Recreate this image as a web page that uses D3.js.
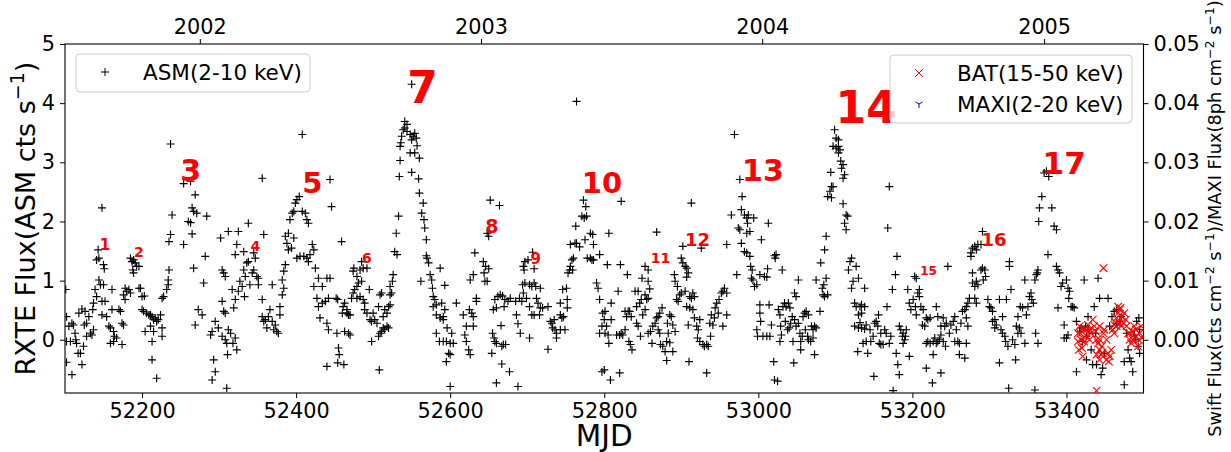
<!DOCTYPE html>
<html lang="en">
<head>
    <meta charset="UTF-8">
    <script src="https://cdn.jsdelivr.net/npm/d3@7"></script>
    <title>ASM light curve</title>
    <style>
        body { margin: 0; background: #fff; }
        text { font-family: "DejaVu Sans", sans-serif; }
    </style>
</head>
<body>
<script>
// RXTE/ASM daily rate [MJD, cts/s]
const asm = [
[52101,0.85],[52102,0.39],[52105,0.23],[52102,-0.03],[52107,-0.03],[52109,0.28],[52111,0.25],[52113,0.11],[52114,0.00],[52118,0.45],[52117,-0.23],[52115,-0.06],[52120,-0.23],[52122,0.52],[52124,-0.11],[52126,0.48],[52128,0.28],[52125,0.25],[52131,0.39],[52128,0.06],[52133,0.11],[52135,0.08],[52137,0.17],[52136,0.51],[52137,0.62],[52139,0.85],[52141,0.73],[52144,1.01],[52146,0.93],[52150,0.93],[52148,0.65],[52152,0.65],[52148,0.42],[52154,0.39],[52157,0.23],[52159,0.20],[52161,0.85],[52161,0.51],[52163,0.14],[52164,0.06],[52159,-0.06],[52163,-0.03],[52167,0.03],[52170,0.51],[52172,0.48],[52174,0.28],[52176,0.25],[52174,-0.08],[52122,-0.42],[52109,-0.59],[52102,-0.38],[52143,1.52],[52144,1.38],[52141,1.35],[52150,1.27],[52151,1.20],[52148,2.23],
[52178,0.87],[52180,0.82],[52183,0.85],[52185,0.79],[52176,0.76],[52178,0.68],[52189,1.13],[52188,1.18],[52187,1.32],[52189,1.35],[52191,1.30],[52193,1.24],[52196,1.24],[52185,1.38],[52196,0.87],[52198,0.87],[52200,0.73],[52203,0.74],[52200,0.51],[52202,0.48],[52206,0.45],[52209,0.42],[52211,0.42],[52213,0.39],[52204,0.14],[52211,0.23],[52215,0.34],[52217,0.37],[52219,0.31],[52221,0.34],[52224,0.42],[52226,0.20],[52226,0.06],[52215,0.14],[52213,-0.03],[52213,-0.34],[52219,-0.65],[52226,0.70],[52228,0.73],[52232,0.85],[52234,0.93],[52234,1.01],[52235,1.18],[52235,1.66],[52237,1.78],[52239,2.11],[52237,3.31],
[52254,2.64],[52263,2.68],[52269,2.45],[52265,2.23],[52267,2.17],[52271,2.14],[52260,2.00],[52263,1.98],[52265,1.79],[52254,1.61],[52267,1.21],[52280,0.96],[52282,1.41],[52284,2.09],[52273,0.51],[52278,0.42],[52269,0.25],[52289,0.08],[52291,0.14],[52295,0.31],[52293,-0.34],[52295,-0.54],[52291,-0.68],[52299,0.20],[52302,1.72],[52304,1.18],[52306,1.13],[52308,1.07],[52304,0.65],[52306,0.48],[52308,0.45],[52304,0.06],[52308,0.00],[52310,-0.06],[52312,1.83],[52312,0.17],[52315,0.11],[52311,-0.25],[52310,-0.82],[52317,0.85],[52319,0.54],[52318,-0.06],[52321,0.03],[52321,0.68],[52323,-0.17],[52323,1.61],[52325,1.83],[52321,1.44],[52325,0.82],[52327,0.99],[52330,0.90],[52332,1.18],[52332,1.49],[52334,1.07],[52333,0.73],[52336,1.30],[52338,1.32],[52338,1.97],[52340,0.93],[52343,1.13],[52345,1.18],[52345,1.47],[52347,1.38],[52349,1.07],[52351,1.04],[52351,0.93],[52356,0.68],[52356,0.39],[52358,0.31],[52358,1.78],[52360,0.34],[52362,0.20],[52364,0.39],[52366,0.51],[52369,0.31],[52369,0.93],[52371,0.17],[52373,0.25],[52375,0.14],[52377,0.11],[52379,0.42],[52379,0.56],[52382,0.76],[52384,0.87],[52382,1.01],[52384,1.16],[52386,1.27],[52386,1.75],[52390,1.80],[52388,1.63],[52390,1.52],[52394,1.55],[52397,1.72],[52401,1.38],[52405,1.41],[52410,1.41],[52414,1.38],[52416,1.32],[52418,1.44],[52421,1.61],[52423,1.52],[52425,1.21],[52423,0.90],[52429,1.04],[52434,0.90],[52440,1.04],[52444,1.04],[52427,0.70],[52429,0.56],[52434,0.62],[52438,0.65],[52442,0.70],[52431,0.37],[52440,0.28],[52442,0.17],[52440,-0.45],[52392,2.03],[52397,2.17],[52395,2.14],[52399,2.31],[52401,2.37],[52404,2.42],[52408,2.17],[52412,2.14],[52414,2.03],[52416,1.97],[52408,3.47],[52356,2.73],[52444,2.71],[52446,2.25],
[52459,1.66],[52452,0.70],[52454,0.68],[52453,0.11],[52455,-0.14],[52456,-0.25],[52454,-0.39],[52462,-0.42],[52461,0.56],[52463,0.62],[52460,0.45],[52466,0.45],[52468,0.42],[52470,0.42],[52463,0.14],[52468,0.11],[52470,0.08],[52466,0.51],[52472,0.70],[52474,0.79],[52476,0.85],[52479,0.90],[52481,0.96],[52485,0.99],[52475,1.21],[52474,1.16],[52479,1.07],[52483,1.18],[52485,1.32],[52487,1.21],[52492,1.21],[52479,0.70],[52483,0.73],[52487,0.68],[52489,0.62],[52489,0.51],[52492,0.45],[52496,0.34],[52498,0.31],[52502,0.34],[52505,0.28],[52500,0.45],[52495,0.85],[52498,-0.03],[52507,0.06],[52509,0.11],[52511,0.14],[52513,0.20],[52515,0.17],[52518,0.23],[52520,0.20],[52507,0.56],[52509,0.76],[52511,0.79],[52513,0.39],[52515,0.51],[52518,0.45],[52520,0.56],[52522,0.59],[52522,0.76],[52524,0.79],[52522,0.90],[52525,0.99],[52526,1.10],[52508,-0.51],
[52528,1.49],[52531,1.44],[52530,1.80],[52533,2.09],[52534,2.76],[52535,3.03],[52535,3.27],[52537,3.44],[52539,3.55],[52541,3.69],[52544,3.64],[52541,3.58],[52544,3.52],[52548,3.47],[52550,3.38],[52552,3.44],[52554,3.49],[52556,3.41],[52557,3.28],[52548,3.16],[52554,3.16],[52560,3.07],[52536,3.33],[52550,2.83],[52559,2.72],[52550,4.32],[52560,2.48],[52565,2.31],[52563,2.14],[52566,2.03],[52567,1.89],[52569,1.69],[52569,1.42],[52570,1.38],[52572,1.30],[52574,1.10],[52576,1.01],[52577,0.87],[52562,0.99],[52578,0.73],[52580,0.68],[52582,0.59],[52578,0.56],[52582,0.42],[52587,0.37],[52591,0.34],[52591,0.39],[52589,0.62],[52593,0.51],[52582,0.11],[52586,-0.03],[52591,-0.03],[52595,-0.03],[52600,-0.06],[52604,-0.06],[52596,0.20],[52602,0.11],[52595,-0.37],[52598,-0.23],[52600,-0.25],[52600,-0.79],[52587,1.21],[52593,0.92],[52608,0.62],[52617,0.42],[52621,0.23],[52619,0.08],[52621,-0.03],[52624,-0.17],[52626,-0.25],[52625,0.51],[52628,0.45],[52630,0.39],[52630,0.23],[52626,1.01],[52630,1.10],[52632,1.47],[52634,0.70],[52634,0.65],[52643,1.32],[52644,1.13],[52645,0.99],[52648,0.99],[52646,1.24],[52650,1.20],[52648,1.80],[52650,1.75],[52652,2.36],[52664,2.27],[52655,0.11],[52657,0.03],[52658,-0.03],[52654,-0.23],[52660,-0.06],[52658,0.68],[52656,0.51],[52660,0.54],[52662,0.73],[52665,0.76],[52668,0.74],[52671,0.68],[52670,0.56],[52666,0.24],[52667,-0.11],[52669,-0.08],[52672,-0.08],[52667,-0.41],[52677,-0.54],[52660,-0.73],[52675,0.65],[52678,0.70],[52685,0.65],[52686,0.42],[52690,0.70],[52688,0.27],[52691,0.11],[52693,0.65],[52695,0.79],[52694,0.93],[52697,0.96],[52696,1.18],[52695,1.24],[52697,1.32],[52701,1.35],[52707,1.48],[52709,1.20],[52699,0.70],[52703,0.56],[52703,0.03],[52706,0.42],[52703,0.93],[52706,0.90],[52709,0.96],[52711,0.90],[52717,0.87],[52712,0.70],[52714,0.62],[52717,0.54],[52716,0.42],[52709,0.42],[52688,-0.79],[52720,0.54],[52727,0.56],[52727,-0.16],[52730,0.31],[52732,0.28],[52733,0.20],[52735,0.34],[52736,0.17],[52738,0.11],[52738,0.03],[52743,0.62],[52743,0.42],[52745,0.37],[52747,0.39],[52749,0.17],[52743,0.17],[52746,0.85],[52751,0.87],[52752,0.68],[52752,0.54],[52753,1.13],[52755,1.18],[52756,1.24],[52759,1.18],[52758,1.35],[52760,1.38],[52756,1.61],[52762,1.63],[52764,1.63],[52768,1.57],[52763,1.92],[52771,2.09],[52774,2.06],[52777,2.09],[52776,2.25],[52773,2.36],[52775,1.69],[52778,1.38],[52782,1.38],[52784,1.35],[52786,1.35],[52782,1.80],[52785,1.78],[52786,1.61],[52764,4.03],[52790,0.96],[52792,0.87],[52794,0.68],[52794,0.11],[52797,-0.54],
[52797,0.23],[52798,0.45],[52801,0.48],[52800,0.34],[52801,0.11],[52803,0.23],[52805,0.08],[52806,-0.06],[52800,-0.51],[52808,-0.68],[52809,0.62],[52809,0.34],[52804,1.27],[52794,1.44],[52806,1.80],[52822,2.34],[52820,-0.56],[52818,0.82],[52816,0.08],[52820,0.08],[52822,0.11],[52824,0.08],[52827,0.17],[52821,1.27],[52830,1.10],[52827,0.48],[52829,0.39],[52831,0.48],[52833,0.48],[52832,-0.03],[52834,-0.08],[52836,-0.17],[52835,0.39],[52840,0.82],[52844,0.82],[52842,0.56],[52846,0.62],[52848,0.68],[52842,0.28],[52844,0.23],[52847,0.06],[52850,0.42],[52853,0.51],[52855,0.68],[52857,0.70],[52853,1.24],[52857,1.18],[52849,1.04],[52857,0.99],[52859,0.86],[52853,0.76],[52857,0.11],[52860,0.14],[52862,-0.06],[52863,0.23],[52866,0.28],[52868,0.37],[52870,0.17],[52872,0.11],[52868,1.82],[52870,0.39],[52872,0.45],[52875,0.54],[52873,-0.08],[52876,-0.11],[52879,-0.20],[52881,-0.35],[52881,-0.03],[52883,0.11],[52882,0.28],[52885,0.42],[52887,0.39],[52889,0.25],[52892,0.14],[52889,-0.20],[52885,-0.05],[52891,1.10],[52892,0.99],[52894,0.68],[52896,0.65],[52898,0.76],[52900,0.79],[52895,0.90],[52900,1.38],[52902,1.30],[52905,1.24],[52907,1.21],[52909,1.13],[52907,1.06],[52902,1.58],[52905,0.82],[52907,0.56],[52909,0.25],[52911,0.73],[52913,0.70],[52915,0.79],[52917,0.73],[52911,0.54],[52915,0.51],[52913,2.31],[52910,-0.37],[52917,0.37],[52920,0.23],[52922,0.17],[52924,0.34],[52926,1.55],[52921,0.03],[52924,-0.03],[52928,-0.08],[52930,-0.11],[52933,-0.08],[52935,-0.11],[52933,-0.56],[52937,0.28],[52939,0.42],[52941,0.25],[52938,0.06],[52943,0.37],[52944,0.54],[52946,0.62],[52948,0.45],[52949,0.68],[52952,0.79],[52954,0.82],[52956,0.87],[52959,0.79],[52959,0.42],[52954,0.23],[52959,1.61],
[52965,2.11],[52969,3.47],[52972,1.10],[52974,1.89],[52976,2.71],[52978,2.20],[52979,2.42],[52982,2.11],[52985,2.06],[52987,2.11],[52986,1.97],[52989,1.83],[52985,1.80],[52976,1.86],[52978,1.63],[52982,1.49],[52985,1.47],[52989,1.41],[52994,2.06],[52990,1.24],[52992,1.18],[52991,1.04],[52993,1.01],[52995,0.90],[52998,0.93],[53002,1.10],[53004,1.69],[53008,1.07],[53011,1.06],[53012,1.20],[53013,1.97],[52998,0.17],[52999,0.06],[53002,0.45],[53003,0.31],[53002,0.59],[53006,0.06],[53011,0.06],[53014,0.59],[53015,0.06],[53017,0.25],[53020,-0.37],[53021,-0.68],[53025,-0.70],[53022,1.38],[53023,1.44],[53021,1.42],[53026,0.51],[53028,0.42],[53029,0.23],[53028,-0.03],[53030,0.08],[53031,1.18],[53032,0.56],[53034,0.62],[53036,0.56],[53039,0.62],[53041,0.54],[53035,0.31],[53038,0.17],[53040,0.20],[53042,0.28],[53044,0.39],[53045,-0.03],[53046,-0.39],[53047,0.79],[53049,0.73],[53052,1.01],[53047,0.34],[53049,0.23],[53052,0.28],[53054,0.11],[53055,-0.03],[53057,0.06],[53055,-0.17],[53058,0.39],[53060,0.45],[53062,0.48],[53065,0.42],[53061,0.17],[53064,0.06],[53065,0.00],[53069,0.23],[53071,0.17],[53073,0.23],[53068,-0.03],[53071,0.03],[53073,-0.25],[53075,0.20],[53075,1.01],[53080,0.48],[53081,1.30],[53083,0.87],[53085,0.93],[53084,0.76],[53086,0.73],[53088,1.04],[53090,0.76],[53086,1.52],[53088,1.75],
[53090,2.42],[53093,2.51],[53095,2.40],[53095,2.59],[53097,2.59],[53094,2.83],[53097,3.27],[53099,3.55],[53101,3.41],[53104,3.38],[53104,3.27],[53106,3.21],[53101,3.24],[53104,3.16],[53107,3.02],[53110,2.96],[53108,2.90],[53112,2.79],[53110,2.73],[53110,2.30],[53114,2.11],[53116,2.09],[53112,1.97],[53114,1.86],[53119,1.32],[53121,1.38],[53117,1.18],[53127,1.24],[53123,0.99],[53121,0.87],[53130,1.04],[53138,0.87],[53125,0.62],[53127,0.56],[53132,0.56],[53134,0.59],[53138,0.56],[53130,0.42],[53134,0.45],[53132,0.29],[53125,0.23],[53130,0.20],[53134,0.20],[53138,0.18],[53136,-0.06],[53140,-0.03],[53142,-0.23],[53129,-0.20],[53140,0.25],
[53145,0.17],[53146,-0.03],[53149,0.06],[53150,-0.62],[53151,0.28],[53153,0.31],[53155,0.23],[53157,-0.06],[53159,-0.08],[53162,-0.08],[53159,0.11],[53156,0.42],[53164,0.17],[53166,0.11],[53167,0.56],[53168,1.89],[53170,2.59],[53170,-0.06],[53172,0.06],[53175,-0.86],[53179,-0.23],[53180,1.41],[53181,-0.42],[53178,1.10],[53174,0.85],[53183,-0.59],[53183,0.23],[53185,0.17],[53187,0.06],[53188,0.11],[53190,0.00],[53191,0.06],[53188,-0.06],[53192,0.17],[53194,0.85],[53196,0.62],[53196,-0.28],[53198,0.51],[53201,0.68],[53203,1.07],[53205,1.04],[53204,0.56],[53207,0.79],[53209,0.73],[53209,0.85],[53211,0.56],[53214,0.51],[53205,0.42],[53213,0.25],[53216,0.23],[53218,0.37],[53220,0.34],[53223,0.37],[53218,-0.06],[53220,-0.03],[53223,-0.06],[53227,-0.03],[53229,0.03],[53231,-0.06],[53233,-0.03],[53235,0.00],[53237,0.08],[53218,-0.48],[53227,-0.25],[53226,-0.73],[53231,0.56],[53233,0.39],[53237,0.23],[53240,0.37],[53242,0.23],[53244,0.28],[53246,1.24],[53240,-0.03],[53243,-0.11],[53237,-0.56],[53248,0.11],[53250,0.25],[53253,0.31],[53255,0.39],[53257,0.17],[53259,-0.03],[53255,-0.03],[53261,-0.25],[53261,-0.06],[53263,0.28],[53265,0.48],[53268,0.51],[53270,0.56],[53272,0.62],[53274,0.70],[53268,-0.31],[53270,-0.06],[53270,0.37],[53272,0.23],
[53276,1.47],[53278,1.55],[53281,1.58],[53283,1.52],[53285,1.61],[53289,1.61],[53291,1.83],[53276,1.41],[53278,1.13],[53278,0.96],[53281,0.90],[53283,0.99],[53285,0.93],[53289,1.18],[53291,1.21],[53294,1.18],[53295,1.07],[53292,1.01],[53281,0.70],[53283,0.62],[53298,0.68],[53300,0.56],[53302,0.54],[53304,0.48],[53304,0.31],[53307,0.34],[53309,0.25],[53307,0.20],[53313,0.68],[53315,0.17],[53317,0.11],[53320,0.06],[53322,0.68],[53317,0.39],[53313,-0.39],[53321,-0.03],[53324,-0.11],[53325,-0.82],[53326,1.32],[53326,1.24],[53328,0.85],[53330,0.00],[53333,-0.08],[53334,-0.34],[53335,0.23],[53337,0.39],[53337,0.11],[53339,0.20],[53340,0.56],[53341,0.11],[53343,0.54],[53346,1.01],[53346,-0.06],[53348,0.42],[53350,0.56],[53352,0.73],[53354,0.79],[53355,0.68],[53357,0.62],[53359,1.01],[53361,1.10],[53363,1.18],[53362,1.13],[53360,0.11],[53363,-0.06],[53359,-0.85],
[53364,2.00],[53365,2.23],[53368,2.42],[53371,2.82],[53374,2.85],[53377,2.76],[53381,2.23],[53384,1.92],[53387,1.86],[53376,1.44],[53387,1.24],[53389,1.18],[53391,1.13],[53393,0.90],[53395,0.96],[53400,1.01],[53402,0.87],[53404,0.82],[53406,0.56],[53408,0.56],[53410,0.54],[53403,0.70],[53389,0.54],[53397,0.25],[53397,0.03],[53400,0.03],[53402,0.08],[53413,0.31],[53417,0.14],[53419,0.20],[53421,-0.03],[53423,1.01],[53425,0.23],[53426,0.06],[53426,-0.34],[53413,-0.54],[53428,0.39],[53429,0.17],[53432,-0.17],[53434,-0.42],[53436,0.56],[53438,0.11],[53439,-0.42],[53441,1.04],[53443,0.70],[53445,-0.59],[53447,-0.48],[53449,-0.23],[53454,0.70],[53456,0.23],[53459,0.39],[53462,0.48],[53465,0.51],[53465,0.28],[53469,0.31],[53471,0.39],[53475,-0.37],[53478,0.11],[53480,-0.17],[53482,-0.31],[53484,-0.37],[53486,-0.54],[53475,-0.76],[53488,0.08],[53490,0.00],[53493,-0.11],[53494,0.37],[53495,0.17],[53491,0.31],[53495,-0.23]
]

// Swift/BAT rate [MJD, cts cm^-2 s^-1]
const bat = [
[53415,0.0011],[53417,0.0023],[53419,0.0000],[53420,-0.0014],[53421,-0.0028],[53423,0.0017],[53426,0.0006],[53428,0.0025],[53430,0.0017],[53432,0.0011],[53434,0.0034],[53436,0.0023],[53438,0.0014],[53439,0.0000],[53441,-0.0006],[53443,-0.0017],[53445,-0.0025],[53446,-0.0011],[53448,0.0011],[53449,0.0017],[53452,0.0000],[53454,-0.0023],[53455,-0.0037],[53456,-0.0028],[53458,-0.0017],[53460,0.0017],[53462,0.0025],[53465,0.0023],[53465,0.0037],[53467,0.0045],[53469,0.0051],[53470,0.0054],[53472,0.0039],[53474,0.0028],[53475,0.0045],[53477,0.0034],[53478,0.0023],[53480,0.0011],[53482,0.0000],[53484,-0.0006],[53486,0.0014],[53488,0.0023],[53490,0.0006],[53493,-0.0011],[53494,0.0000],[53495,0.0011],[53497,0.0023],[53498,0.0003],[53418,0.0011],[53423,-0.0003],[53430,0.0000],[53443,0.0000],[53447,-0.0023],[53452,-0.0034],[53439,-0.0025],[53443,-0.0034],[53469,0.0028],[53464,0.0029],[53462,0.0011],[53426,0.0017],[53415,-0.0003],[53416,-0.0017],[53443,0.0023],[53448,0.0121],[53439,-0.0086],[53486,0.0000],[53490,0.0017],[53482,0.0011],[53471,0.0023],[53467,0.0056]
]

// MAXI has no points in this window
const maxi = []

// outburst numbering
const outburstIds  = ["1","2","3","4","5","6","7","8","9","10","11","12","13","14","15","16","17"]
const outburstMJD  = [52152,52196,52263,52347,52421,52492,52564,52654,52711,52797,52873,52921,53006,53140,53221,53306,53397]
const outburstRate = [1.61,1.49,2.86,1.59,2.66,1.38,4.27,1.92,1.38,2.66,1.38,1.70,2.87,3.94,1.17,1.70,2.99]
const outburstFont = [15,14,30,14,29,14,44,19,15,29,14,18,30,44,12,18,31]

const mjdTicks   = [52200,52400,52600,52800,53000,53200,53400]
const yearTicks  = [52275,52640,53005,53371]
const yearLabels = ["2002","2003","2004","2005"]
const asmTicks   = [0,1,2,3,4,5]
const swiftTicks = [0,0.01,0.02,0.03,0.04,0.05]

const width = 1231, height = 452
const margin = {top: 44, right: 87.5, bottom: 59, left: 65}
const tickFont = 20.8

const svg = d3.select("body").append("svg")
    .attr("width", width)
    .attr("height", height)

const x = d3.scaleLinear().domain([52100, 53500]).range([margin.left, width - margin.right])
const y = d3.scaleLinear().domain([-0.9, 5]).range([height - margin.bottom, margin.top])
const y2 = d3.scaleLinear().domain([-0.009, 0.05]).range(y.range())

svg.append("clipPath").attr("id", "clip")
    .append("rect")
    .attr("x", margin.left).attr("y", margin.top)
    .attr("width", x.range()[1] - margin.left)
    .attr("height", y.range()[0] - margin.top)

function styleAxis(g) {
    g.select(".domain").remove()
    g.selectAll("line").attr("stroke", "#000")
    g.selectAll("text")
        .attr("font-family", "DejaVu Sans")
        .attr("font-size", tickFont)
        .attr("fill", "#000")
}

svg.append("g")
    .attr("transform", `translate(0,${y.range()[0]})`)
    .call(d3.axisBottom(x).tickValues(mjdTicks).tickFormat(d3.format("d")).tickSize(5).tickPadding(5))
    .call(styleAxis)

svg.append("g")
    .attr("transform", `translate(0,${margin.top})`)
    .call(d3.axisTop(x).tickValues(yearTicks).tickFormat((d, i) => yearLabels[i]).tickSize(5).tickPadding(5))
    .call(styleAxis)

svg.append("g")
    .attr("transform", `translate(${margin.left},0)`)
    .call(d3.axisLeft(y).tickValues(asmTicks).tickFormat(d3.format("d")).tickSize(5).tickPadding(5))
    .call(styleAxis)

svg.append("g")
    .attr("transform", `translate(${x.range()[1]},0)`)
    .call(d3.axisRight(y2).tickValues(swiftTicks).tickFormat(d3.format(".2f")).tickSize(5).tickPadding(5))
    .call(styleAxis)

// frame
svg.append("rect")
    .attr("x", margin.left).attr("y", margin.top)
    .attr("width", x.range()[1] - margin.left)
    .attr("height", y.range()[0] - margin.top)
    .attr("fill", "none")
    .attr("stroke", "#000")
    .attr("stroke-width", 1.1)

const plus = "M-4,0H4M0,-4V4"
const cross = "M-3.8,-3.8L3.8,3.8M-3.8,3.8L3.8,-3.8"
const triDown = "M0,0V4M0,0L-3.5,-2M0,0L3.5,-2"

const pts = svg.append("g").attr("clip-path", "url(#clip)")

pts.selectAll("path.asm")
    .data(asm)
    .join("path")
    .attr("class", "asm")
    .attr("d", plus)
    .attr("transform", d => `translate(${x(d[0])},${y(d[1])})`)
    .attr("stroke", "#000")
    .attr("stroke-width", 1.15)
    .attr("fill", "none")

pts.selectAll("path.bat")
    .data(bat)
    .join("path")
    .attr("class", "bat")
    .attr("d", cross)
    .attr("transform", d => `translate(${x(d[0])},${y2(d[1])})`)
    .attr("stroke", "#ff0000")
    .attr("stroke-width", 1.1)
    .attr("fill", "none")

pts.selectAll("path.maxi")
    .data(maxi)
    .join("path")
    .attr("class", "maxi")
    .attr("d", triDown)
    .attr("transform", d => `translate(${x(d[0])},${y2(d[1])})`)
    .attr("stroke", "#0000ff")
    .attr("fill", "none")

// red outburst numbers
svg.append("g").selectAll("text")
    .data(outburstIds)
    .join("text")
    .attr("x", (d, i) => x(outburstMJD[i]))
    .attr("y", (d, i) => y(outburstRate[i]))
    .attr("dy", "0.36em")
    .attr("text-anchor", "middle")
    .attr("font-weight", "bold")
    .attr("font-size", (d, i) => outburstFont[i])
    .attr("fill", "#ff0000")
    .text(d => d)

// axis titles
const yl = svg.append("text")
    .attr("transform", `translate(35,${(margin.top + y.range()[0]) / 2}) rotate(-90)`)
    .attr("text-anchor", "middle")
    .attr("font-size", 27)
yl.append("tspan").text("RXTE Flux(ASM cts s")
yl.append("tspan").attr("font-size", 19).attr("dy", -11).text("\u22121")
yl.append("tspan").attr("dy", 11).text(")")

const yr = svg.append("text")
    .attr("transform", `translate(1214,${(margin.top + y.range()[0]) / 2}) rotate(-90)`)
    .attr("text-anchor", "middle")
    .attr("font-size", 17.8)
const rParts = [["Swift Flux(cts cm", "\u22122"], [" s", "\u22121"], [")/MAXI Flux(8ph cm", "\u22122"], [" s", "\u22121"]]
rParts.forEach(p => {
    yr.append("tspan").attr("dy", yr.selectAll("tspan").size() ? 7 : 0).text(p[0])
    yr.append("tspan").attr("font-size", 12.5).attr("dy", -7).text(p[1])
})
yr.append("tspan").attr("dy", 7).text(")")

svg.append("text")
    .attr("x", (margin.left + x.range()[1]) / 2)
    .attr("y", 446)
    .attr("text-anchor", "middle")
    .attr("font-size", 29.5)
    .text("MJD")

// legends
function legend(x0, y0, w, h, items) {
    const g = svg.append("g")
    g.append("rect")
        .attr("x", x0).attr("y", y0).attr("width", w).attr("height", h)
        .attr("rx", 4)
        .attr("fill", "#fff").attr("fill-opacity", 0.8)
        .attr("stroke", "#cccccc")
    items.forEach((it, i) => {
        const cy = y0 + 18 + i * 31
        g.append("path")
            .attr("d", it.shape)
            .attr("transform", `translate(${x0 + 29},${cy})`)
            .attr("stroke", it.color).attr("fill", "none")
        g.append("text")
            .attr("x", x0 + 67).attr("y", cy).attr("dy", "0.36em")
            .attr("font-size", 21.5)
            .text(it.label)
    })
}
legend(76, 54, 234, 38, [{shape: plus, color: "#000", label: "ASM(2-10 keV)"}])
legend(890, 55, 242, 68, [
    {shape: cross, color: "#ff0000", label: "BAT(15-50 keV)"},
    {shape: triDown, color: "#0000ff", label: "MAXI(2-20 keV)"}
])
</script>
</body>
</html>
